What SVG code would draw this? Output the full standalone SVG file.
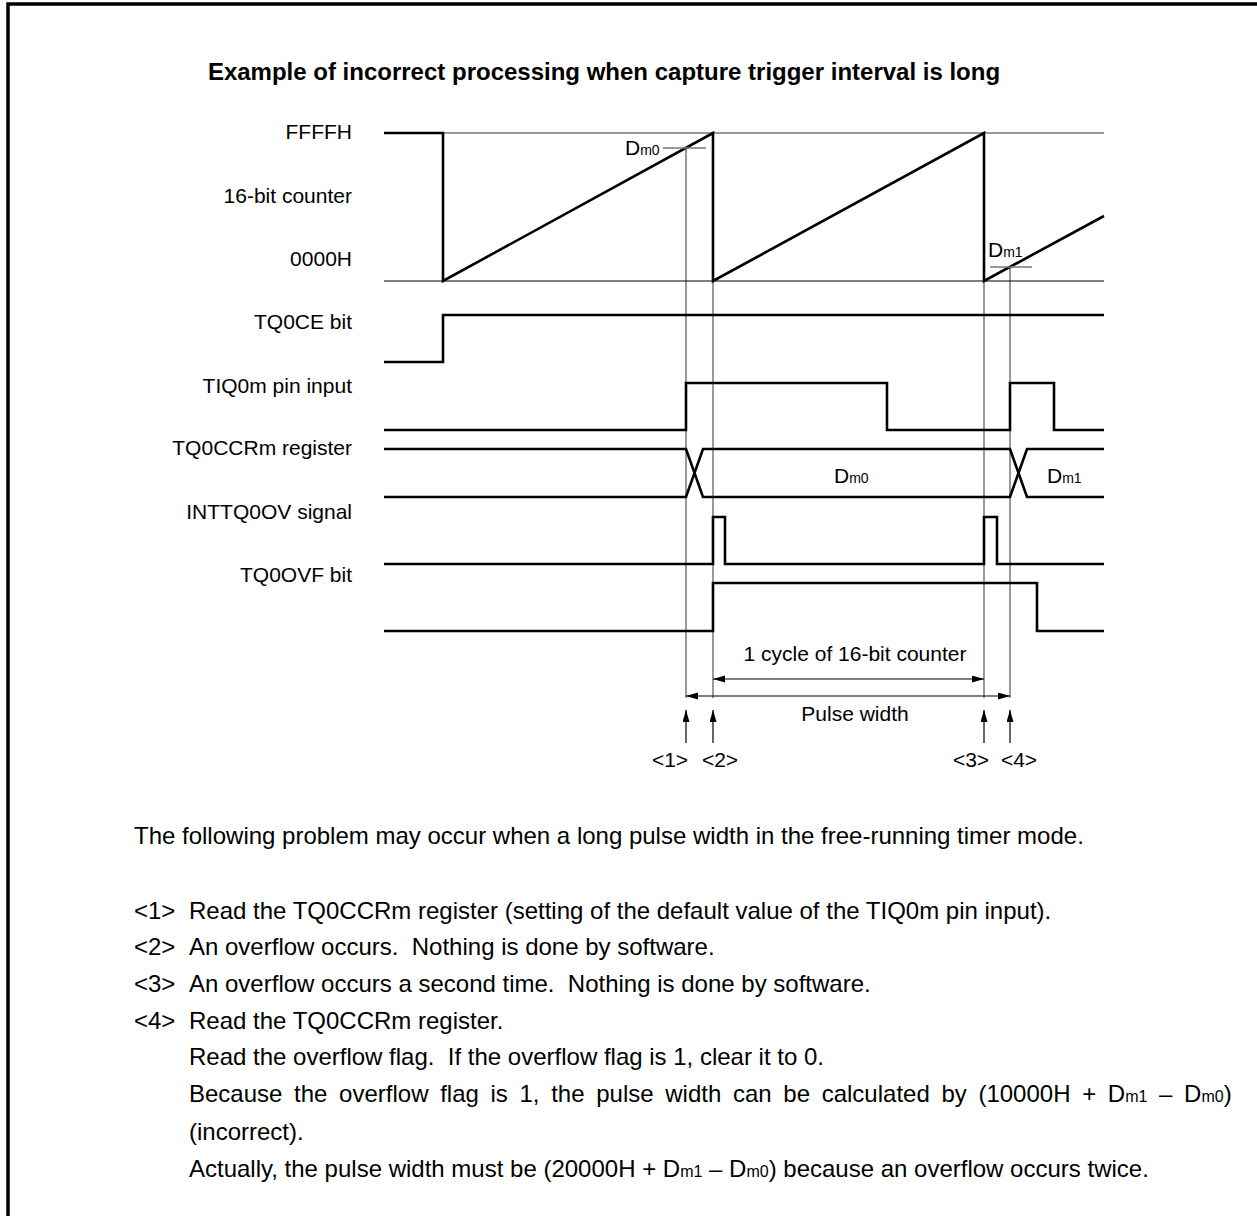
<svg xmlns="http://www.w3.org/2000/svg" width="1257" height="1216" viewBox="0 0 1257 1216">
<style>
text{font-family:"Liberation Sans",Arial,sans-serif;font-size:21px;fill:#000}
.lbl{text-anchor:end}
.title{font-weight:bold;text-anchor:middle;font-size:24px}
.sub{font-size:14px}
.body{font-size:24px;white-space:pre}
.bsub{font-size:16px}
.sig{fill:none;stroke:#000;stroke-width:2.6;stroke-linejoin:miter}
.thin{fill:none;stroke:#000;stroke-width:1}
.gray{fill:none;stroke:#777;stroke-width:1.3}
.guide{fill:none;stroke:#555;stroke-width:1.2}
.arr{fill:none;stroke:#000;stroke-width:1.2}
.mid{text-anchor:middle}
</style>
<defs>
<marker id="ah" markerUnits="userSpaceOnUse" markerWidth="13" markerHeight="8" refX="12" refY="3.5" orient="auto-start-reverse"><path d="M0,0 L12,3.5 L0,7 z" fill="#000"/></marker>
</defs>
<rect width="1257" height="1216" fill="#fff"/>
<path d="M8,1220 V4 H1262" fill="none" stroke="#000" stroke-width="3.5"/>
<text class="title" x="604" y="80">Example of incorrect processing when capture trigger interval is long</text>

<g id="labels">
<text class="lbl" x="352" y="139">FFFFH</text>
<text class="lbl" x="352" y="203">16-bit counter</text>
<text class="lbl" x="352" y="266">0000H</text>
<text class="lbl" x="352" y="329">TQ0CE bit</text>
<text class="lbl" x="352" y="393">TIQ0m pin input</text>
<text class="lbl" x="352" y="455">TQ0CCRm register</text>
<text class="lbl" x="352" y="519">INTTQ0OV signal</text>
<text class="lbl" x="352" y="582">TQ0OVF bit</text>
</g>

<g id="connectors">
<line class="guide" x1="686" y1="148" x2="686" y2="698"/>
<line class="guide" x1="713" y1="281" x2="713" y2="698"/>
<line class="guide" x1="984" y1="281" x2="984" y2="698"/>
<line class="guide" x1="1010" y1="267" x2="1010" y2="698"/>
<line class="arr" x1="713" y1="679" x2="984" y2="679" marker-start="url(#ah)" marker-end="url(#ah)"/>
<line class="arr" x1="686" y1="696" x2="1010" y2="696" marker-start="url(#ah)" marker-end="url(#ah)"/>
<line class="arr" x1="686" y1="743" x2="686" y2="710" marker-end="url(#ah)"/>
<line class="arr" x1="713" y1="743" x2="713" y2="710" marker-end="url(#ah)"/>
<line class="arr" x1="984" y1="743" x2="984" y2="710" marker-end="url(#ah)"/>
<line class="arr" x1="1010" y1="743" x2="1010" y2="710" marker-end="url(#ah)"/>
</g>

<g id="counter">
<line class="gray" x1="384" y1="133" x2="1104" y2="133"/>
<line class="thin" x1="384" y1="281" x2="1104" y2="281"/>
<path class="sig" d="M384,133 H443 V281 L713,133 V281 L984,133 V281 L1104,216"/>
<line class="gray" x1="663" y1="148" x2="706" y2="148"/>
<line class="gray" x1="990" y1="267" x2="1032" y2="267"/>
<text x="625" y="155">D<tspan class="sub">m0</tspan></text>
<text x="988" y="257">D<tspan class="sub">m1</tspan></text>
</g>

<g id="tq0ce">
<path class="sig" d="M384,362 H443 V315 H1104"/>
</g>

<g id="tiq0m">
<path class="sig" d="M384,430 H686 V383 H887 V430 H1010 V383 H1054 V430 H1104"/>
</g>

<g id="tq0ccrm">
<path class="sig" d="M384,449 H686 L703,497 H1010 L1027,449 H1104"/>
<path class="sig" d="M384,497 H686 L703,449 H1010 L1027,497 H1104"/>
<text x="834" y="483">D<tspan class="sub">m0</tspan></text>
<text x="1047" y="483">D<tspan class="sub">m1</tspan></text>
</g>

<g id="inttq0ov">
<path class="sig" d="M384,564 H713 V517 H725 V564 H984 V517 H997 V564 H1104"/>
</g>

<g id="tq0ovf">
<path class="sig" d="M384,631 H713 V583 H1037 V631 H1104"/>
</g>

<g id="annotations">
<text class="mid" x="855" y="661">1 cycle of 16-bit counter</text>
<text class="mid" x="855" y="721">Pulse width</text>
<text class="mid" x="670" y="767">&lt;1&gt;</text>
<text class="mid" x="720" y="767">&lt;2&gt;</text>
<text class="mid" x="971" y="767">&lt;3&gt;</text>
<text class="mid" x="1019" y="767">&lt;4&gt;</text>
</g>

<g id="notes">
<text class="body" x="134" y="844">The following problem may occur when a long pulse width in the free-running timer mode.</text>
<text class="body" x="134" y="919">&lt;1&gt;</text>
<text class="body" x="189" y="919">Read the TQ0CCRm register (setting of the default value of the TIQ0m pin input).</text>
<text class="body" x="134" y="955">&lt;2&gt;</text>
<text class="body" x="189" y="955">An overflow occurs.  Nothing is done by software.</text>
<text class="body" x="134" y="992">&lt;3&gt;</text>
<text class="body" x="189" y="992">An overflow occurs a second time.  Nothing is done by software.</text>
<text class="body" x="134" y="1029">&lt;4&gt;</text>
<text class="body" x="189" y="1029">Read the TQ0CCRm register.</text>
<text class="body" x="189" y="1065">Read the overflow flag.  If the overflow flag is 1, clear it to 0.</text>
<text class="body" x="189" y="1102" word-spacing="5">Because the overflow flag is 1, the pulse width can be calculated by (10000H + D<tspan class="bsub">m1</tspan> – D<tspan class="bsub">m0</tspan>)</text>
<text class="body" x="189" y="1140">(incorrect).</text>
<text class="body" x="189" y="1177">Actually, the pulse width must be (20000H + D<tspan class="bsub">m1</tspan> – D<tspan class="bsub">m0</tspan>) because an overflow occurs twice.</text>
</g>
</svg>
